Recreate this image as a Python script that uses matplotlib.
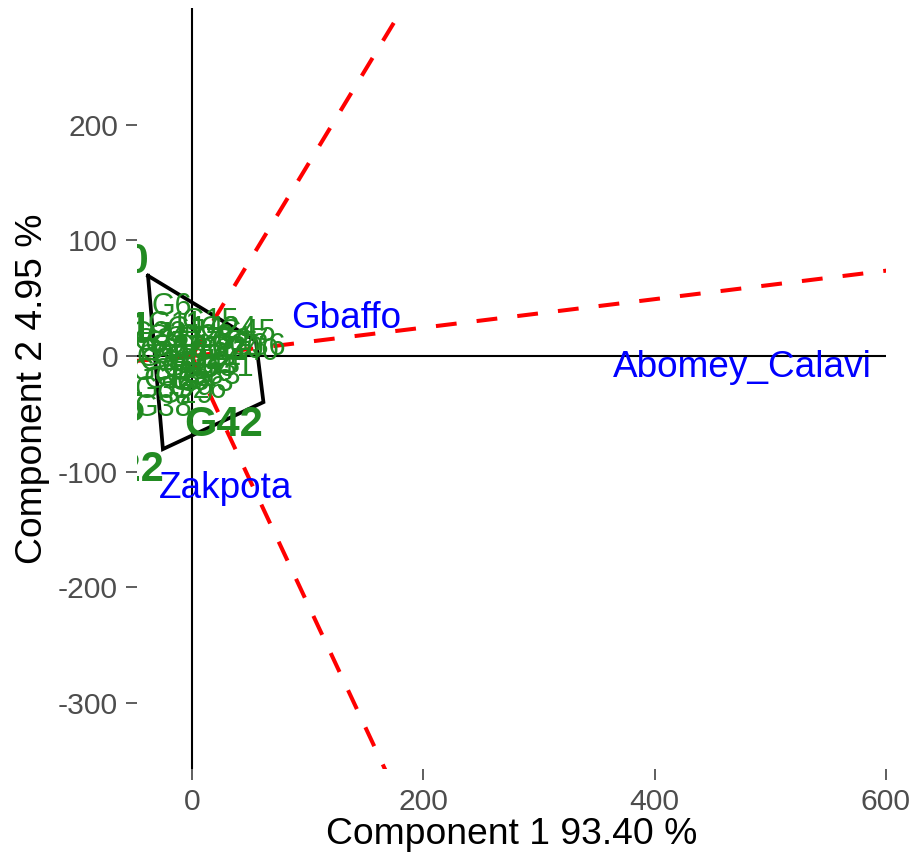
import numpy as np
import matplotlib
matplotlib.use("Agg")
import matplotlib.pyplot as plt

plt.rcParams["font.family"] = ["Liberation Sans", "DejaVu Sans"]
plt.rcParams["lines.scale_dashes"] = False
plt.rcParams["axes.unicode_minus"] = False

# --- data -------------------------------------------------------------
# genotype scores (PC1, PC2)
geno_names = ["G6", "G24", "G45", "G36", "G34", "G44", "G13", "G43", "G38",
              "G3", "G7", "G9", "G11", "G14", "G15", "G16", "G17", "G18",
              "G19", "G20", "G21", "G23", "G25", "G26", "G27", "G28", "G29",
              "G30", "G31", "G32", "G33", "G37", "G39", "G40", "G2", "G4",
              "G8", "G5", "G12", "G41"]
geno_x = [-17.3, 31.1, 47.5, 56.2, 25.9, 17.3, -17.3, 11.2, -25.1,
          -23.3, -6.0, -27.7, -14.7, 2.6, 15.6, 6.9, -10.4, -20.7,
          -1.7, 37.2, 24.2, -29.4, -7.8, 5.2, 41.5, 11.2, -6.0,
          -27.7, 28.5, 2.6, 17.3, -25.1, -12.1, 50.1, -33.0, 20.0,
          -2.0, -30.0, 8.0, -14.0]
geno_y = [42.4, 22.5, 19.9, 7.8, 13.8, -5.2, -20.7, -23.3, -45.0,
          9.5, 13.8, 3.5, 26.8, 22.5, 29.4, 6.9, 0.9, -5.2,
          -10.4, 5.2, 3.5, 18.2, -19.0, -29.4, 12.1, 15.6, -33.7,
          -13.8, -10.4, -1.7, -17.3, -29.4, 6.9, 3.5, 12.0, -12.0,
          -22.0, -2.0, -8.0, 16.0]

# vertex (winning) genotypes
win_names = ["G10", "G1", "G35", "G22", "G42"]
win_x = [-71.0, -58.8, -75.0, -58.5, 27.7]
win_y = [81.0, 22.5, -47.0, -98.6, -59.7]

# environments
env_names = ["Gbaffo", "Abomey_Calavi", "Zakpota"]
env_x = [133.1, 475.5, 29.4]
env_y = [32.9, -9.5, -114.1]

# convex hull of the genotype scores
hull_x = [-38.0, 55.3, 61.8, -25.1]
hull_y = [69.5, 13.0, -39.8, -80.4]

x_ticks = [0, 200, 400, 600]
y_ticks = [-300, -200, -100, 0, 100, 200]
x_title = "Component 1 93.40 %"
y_title = "Component 2 4.95 %"

xlim = (-47.5, 600.0)
ylim = (-357.0, 301.0)

# --- figure -----------------------------------------------------------
W, H = 910, 859
fig = plt.figure(figsize=(W / 100, H / 100), dpi=100)
left, right, top, bottom = 137, 886, 8, 769
ax = fig.add_axes([left / W, (H - bottom) / H, (right - left) / W,
                   (bottom - top) / H])
ax.set_xlim(*xlim)
ax.set_ylim(*ylim)
for s in ax.spines.values():
    s.set_visible(False)

# reference axes through the origin
ax.axhline(0, color="black", lw=1.5, zorder=1)
ax.axvline(0, color="black", lw=1.5, zorder=1)

# polygon
px = hull_x + hull_x[:1]
py = hull_y + hull_y[:1]
ax.plot(px, py, color="black", lw=2.7, zorder=2, solid_joinstyle="miter")

# rays from the origin, perpendicular to each polygon side
n = len(hull_x)
for i in range(n):
    x1, y1 = hull_x[i], hull_y[i]
    x2, y2 = hull_x[(i + 1) % n], hull_y[(i + 1) % n]
    dx, dy = x2 - x1, y2 - y1
    nx, ny = dy, -dx
    mx, my = (x1 + x2) / 2, (y1 + y2) / 2
    if nx * mx + ny * my < 0:
        nx, ny = -nx, -ny
    L = np.hypot(nx, ny)
    ax.plot([0, 2000 * nx / L], [0, 2000 * ny / L], color="red", lw=2.9,
            linestyle=(0, (15, 14.5)), dash_capstyle="butt", zorder=3)

green = "#228B22"
labels = []
for name, x, y in zip(geno_names, geno_x, geno_y):
    labels.append(ax.text(x, y, name, color=green, fontsize=22, ha="center",
                          va="center", zorder=4))
for name, x, y in zip(win_names, win_x, win_y):
    labels.append(ax.text(x, y, name, color=green, fontsize=30,
                          fontweight="bold", ha="center", va="center",
                          zorder=5))
for name, x, y in zip(env_names, env_x, env_y):
    labels.append(ax.text(x, y, name, color="#0000FF", fontsize=26.6,
                          ha="center", va="center", zorder=6))
for t in labels:
    t.set_clip_on(True)
    t.set_clip_path(ax.patch)

ax.set_xticks(x_ticks)
ax.set_yticks(y_ticks)
ax.tick_params(axis="both", length=7.6, width=1.1, color="#333333",
               labelcolor="#4D4D4D", labelsize=21.6, pad=6)

ax.set_xlabel(x_title, fontsize=26.8, color="black")
ax.set_ylabel(y_title, fontsize=26.8, color="black")
ax.xaxis.set_label_coords(0.5, (bottom - 835) / (bottom - top))
ax.xaxis.label.set_va("center")
ax.yaxis.set_label_coords((33 - left) / (right - left), 0.5)
ax.yaxis.label.set_va("center")

fig.savefig("out.png", dpi=100)
